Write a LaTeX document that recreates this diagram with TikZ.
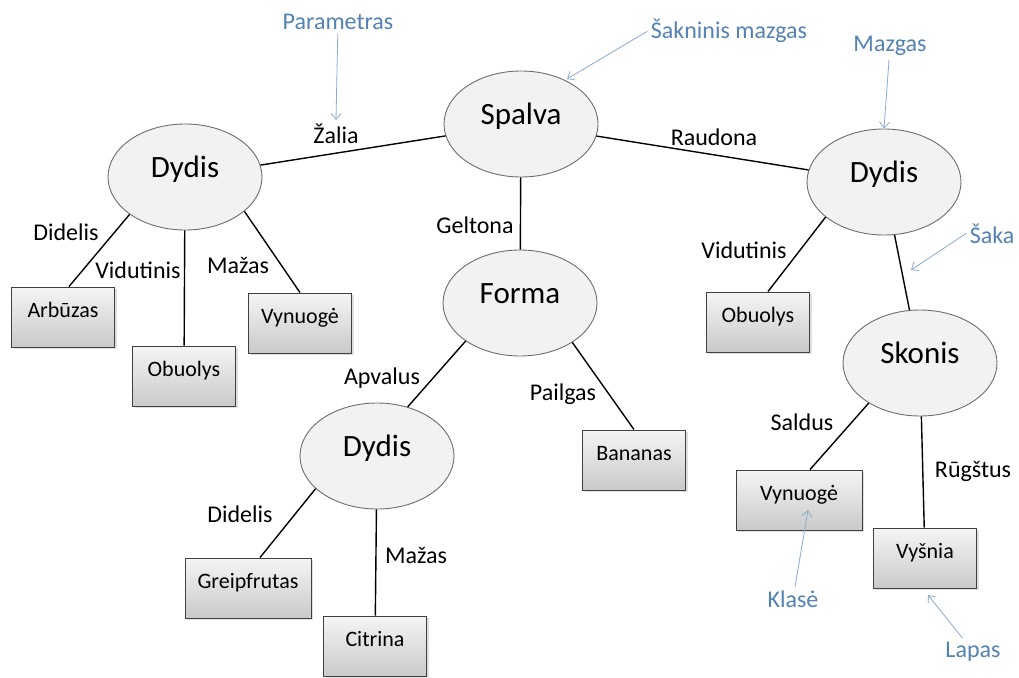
\documentclass[tikz,border=0pt]{standalone}
\usepackage{fontspec}
\setmainfont{Carlito}
\usetikzlibrary{shapes.geometric,shadows,calc,arrows.meta}
\definecolor{notecol}{RGB}{84,130,178}
\definecolor{notearr}{RGB}{140,170,205}
\definecolor{nodefill}{RGB}{242,242,242}
\definecolor{nodeline}{RGB}{110,110,110}

\begin{document}
\begin{tikzpicture}[x=1pt,y=-1pt,
 splitnode/.style={ellipse,draw=nodeline,fill=nodefill,line width=0.9pt,minimum width=154pt,minimum height=106pt,inner sep=0pt,font=\fontsize{31}{34}\selectfont,text height=11pt,text depth=11pt},
 leafbox/.style={rectangle,draw=black!75,top color=gray!8,bottom color=gray!42,line width=0.9pt,minimum width=103pt,minimum height=60pt,inner sep=0pt,font=\fontsize{22}{26}\selectfont,text height=8pt,text depth=8pt,drop shadow={shadow xshift=2pt,shadow yshift=-2pt,opacity=0.25}},
 edgelabel/.style={anchor=base,font=\fontsize{24}{28}\selectfont},
 notelabel/.style={anchor=base,text=notecol,font=\fontsize{24}{28}\selectfont},
 notearrow/.style={draw=notearr,line width=0.8pt,-{Straight Barb[length=6pt,width=10pt]}},
 link/.style={draw=black,line width=1.4pt}]
 \useasboundingbox (0,0) rectangle (1019,677);
 \fill[white] (0,0) rectangle (1019,677);

 \node[splitnode] (sp) at (521,124) {Spalva};
 \node[splitnode] (dl) at (185,177) {Dydis};
 \node[splitnode] (dr) at (884,182) {Dydis};
 \node[splitnode] (fo) at (520,303) {Forma};
 \node[splitnode] (dm) at (377,456) {Dydis};
 \node[splitnode] (sk) at (920,363) {Skonis};

 \node[leafbox] (arb) at (63,317) {Arbūzas};
 \node[leafbox] (obl) at (184,376) {Obuolys};
 \node[leafbox] (vyl) at (300,323) {Vynuogė};
 \node[leafbox] (obr) at (758,322) {Obuolys};
 \node[leafbox] (ban) at (634,460) {Bananas};
 \node[leafbox,minimum width=126pt] (vyr) at (799,500) {Vynuogė};
 \node[leafbox] (vys) at (925,558) {Vyšnia};
 \node[leafbox,minimum width=126pt] (gr) at (248,588) {Greipfrutas};
 \node[leafbox] (ci) at (375,646) {Citrina};

 \draw[link] (sp) -- (dl);
 \draw[link] (sp) -- (dr);
 \draw[link] (sp) -- (fo);
 \draw[link] (dl.214) -- ($(arb.north)+(6,0)$);
 \draw[link] (dl) -- (obl);
 \draw[link] (dl.330) -- (vyl.north);
 \draw[link] (dr.211) -- ($(obr.north)+(10,0)$);
 \draw[link] (dr) -- (sk);
 \draw[link] (fo.215) -- (dm.58);
 \draw[link] (fo.323) -- (ban.north);
 \draw[link] (dm.208) -- ($(gr.north)+(12,0)$);
 \draw[link] (dm) -- (ci);
 \draw[link] (sk.218) -- ($(vyr.north)+(11,0)$);
 \draw[link] (sk) -- (vys);

 \node[edgelabel] (zal) at (336,143) {Žalia};
 \node[edgelabel] (rau) at (714,145) {Raudona};
 \node[edgelabel] (gel) at (475,233) {Geltona};
 \node[edgelabel] (did1) at (66,240) {Didelis};
 \node[edgelabel] (vid1) at (138,278) {Vidutinis};
 \node[edgelabel] (maz1) at (238,273) {Mažas};
 \node[edgelabel] (vid2) at (744,258) {Vidutinis};
 \node[edgelabel] (apv) at (382,384) {Apvalus};
 \node[edgelabel] (pai) at (563,400) {Pailgas};
 \node[edgelabel] (did2) at (240,522) {Didelis};
 \node[edgelabel] (maz2) at (416,563) {Mažas};
 \node[edgelabel] (sal) at (802,430) {Saldus};
 \node[edgelabel] (rug) at (973,477) {Rūgštus};

 \node[notelabel] (par) at (338,30) {Parametras};
 \node[notelabel] (sak) at (729,39) {Šakninis mazgas};
 \node[notelabel] (maz) at (890,52) {Mazgas};
 \node[notelabel,anchor=base east] (sakn) at (1018,243) {Šaka};
 \node[notelabel] (kla) at (793,607) {Klasė};
 \node[notelabel] (lap) at (973,657) {Lapas};

 \coordinate (par-tip) at (336,120);
 \coordinate (sak-tip) at (567,79);
 \coordinate (sakn-tip) at (911,270);
 \coordinate (kla-tip) at (808,510);
 \coordinate (lap-tip) at (928,595);

 \draw[notearrow] (par) -- (par-tip);
 \draw[notearrow] (sak.west) -- (sak-tip);
 \draw[notearrow] (maz) -- (dr.north);
 \draw[notearrow] (sakn.west) -- (sakn-tip);
 \draw[notearrow] (kla) -- (kla-tip);
 \draw[notearrow] (lap) -- (lap-tip);
\end{tikzpicture}
\end{document}
